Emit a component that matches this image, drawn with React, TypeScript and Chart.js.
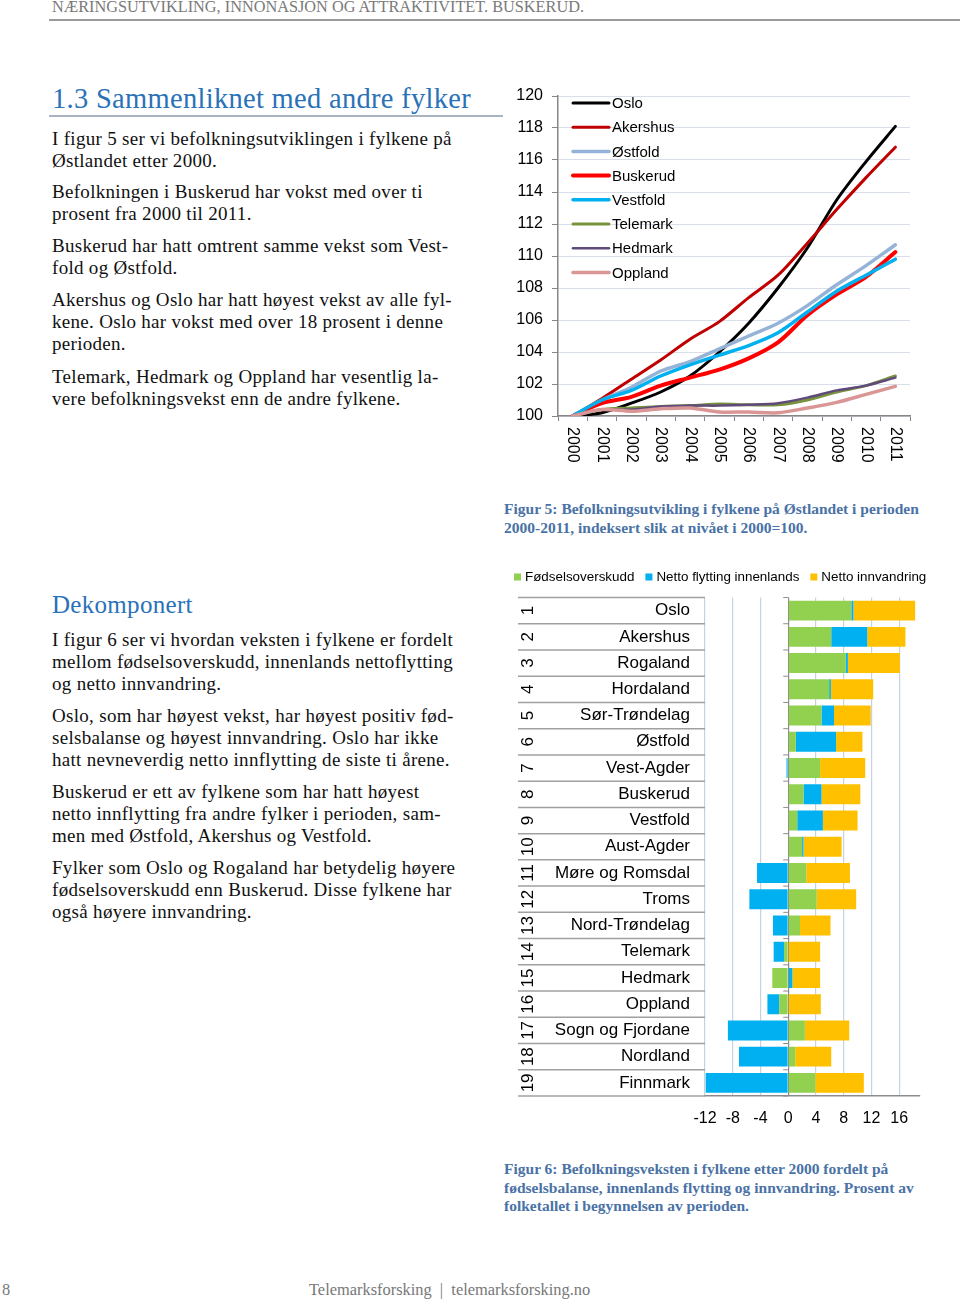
import React, { useEffect, useRef } from 'react';
import { Chart, registerables } from 'chart.js';

Chart.register(...registerables);

const SANS = '"Liberation Sans", Arial, Helvetica, sans-serif';
const SERIF = '"Liberation Serif", "Times New Roman", serif';

// ---------- Figure 5 data ----------
const years = ['2000', '2001', '2002', '2003', '2004', '2005', '2006', '2007', '2008', '2009', '2010', '2011'];
const oslo = [100, 100.2, 100.8, 101.5, 102.5, 104.0, 105.8, 108.0, 110.5, 113.5, 115.9, 118.1];
const akershus = [100, 101.1, 102.3, 103.5, 104.8, 105.9, 107.4, 108.8, 110.8, 112.9, 114.9, 116.8];
const ostfold = [100, 101.0, 101.8, 102.8, 103.4, 104.2, 105.0, 105.8, 106.9, 108.2, 109.4, 110.7];
const buskerud = [100, 100.8, 101.2, 101.9, 102.4, 102.9, 103.6, 104.6, 106.3, 107.6, 108.7, 110.25];
const vestfold = [100, 101.0, 101.6, 102.5, 103.2, 103.8, 104.4, 105.2, 106.5, 107.8, 108.8, 109.8];
const telemark = [100, 100.4, 100.5, 100.6, 100.65, 100.75, 100.7, 100.7, 101.0, 101.5, 101.9, 102.5];
const hedmark = [100, 100.4, 100.4, 100.6, 100.65, 100.65, 100.7, 100.8, 101.15, 101.6, 101.9, 102.4];
const oppland = [100, 100.4, 100.3, 100.45, 100.5, 100.25, 100.25, 100.2, 100.5, 100.85, 101.35, 101.85];
const lineNames = ['Oslo', 'Akershus', 'Østfold', 'Buskerud', 'Vestfold', 'Telemark', 'Hedmark', 'Oppland'];
const lineValues = [oslo, akershus, ostfold, buskerud, vestfold, telemark, hedmark, oppland];
const lineColors = ['#000000', '#C00000', '#95B3D7', '#FF0000', '#00B0F0', '#77933C', '#604A7B', '#D99694'];
const lineWidths = [3, 3, 3.5, 4, 3.5, 3, 2.5, 3.5];
const indexMin = 100;
const indexMax = 120;
const indexStep = 2;

// ---------- Figure 6 data ----------
const ranks = ['1', '2', '3', '4', '5', '6', '7', '8', '9', '10', '11', '12', '13', '14', '15', '16', '17', '18', '19'];
const counties = ['Oslo', 'Akershus', 'Rogaland', 'Hordaland', 'Sør-Trøndelag', 'Østfold', 'Vest-Agder', 'Buskerud', 'Vestfold', 'Aust-Agder', 'Møre og Romsdal', 'Troms', 'Nord-Trøndelag', 'Telemark', 'Hedmark', 'Oppland', 'Sogn og Fjordane', 'Nordland', 'Finnmark'];
const fodselsoverskudd = [9.1, 6.2, 8.3, 5.9, 4.8, 1.1, 4.6, 2.2, 1.3, 2.0, 2.6, 4.1, 1.7, -0.6, -2.3, -1.3, 2.4, 1.0, 3.9];
const nettoFlytting = [0.3, 5.2, 0.3, 0.25, 1.8, 5.8, -0.25, 2.6, 3.7, 0.2, -4.5, -5.6, -2.2, -1.5, 0.6, -1.7, -8.7, -7.1, -11.9];
const nettoInnvandring = [8.9, 5.5, 7.5, 6.1, 5.3, 3.8, 6.5, 5.6, 5.0, 5.5, 6.3, 5.7, 4.4, 4.6, 4.0, 4.7, 6.4, 5.2, 7.0];
const barNames = ['Fødselsoverskudd', 'Netto flytting innenlands', 'Netto innvandring'];
const barColors = ['#92D050', '#00B0F0', '#FFC000'];
const pctMin = -12;
const pctMax = 19;
const pctStep = 4;

// ---------- Text ----------
const headerText = 'NÆRINGSUTVIKLING, INNONASJON OG ATTRAKTIVITET. BUSKERUD.';
const heading1 = '1.3 Sammenliknet med andre fylker';
const introParas = [
  { top: 128, lines: ['I figur 5 ser vi befolkningsutviklingen i fylkene på', 'Østlandet etter 2000.'] },
  { top: 181, lines: ['Befolkningen i Buskerud har vokst med over ti', 'prosent fra 2000 til 2011.'] },
  { top: 235, lines: ['Buskerud har hatt omtrent samme vekst som Vest-', 'fold og Østfold.'] },
  { top: 289, lines: ['Akershus og Oslo har hatt høyest vekst av alle fyl-', 'kene. Oslo har vokst med over 18 prosent i denne', 'perioden.'] },
  { top: 366, lines: ['Telemark, Hedmark og Oppland har vesentlig la-', 'vere befolkningsvekst enn de andre fylkene.'] },
];
const heading2 = 'Dekomponert';
const dekParas = [
  { top: 629, lines: ['I figur 6 ser vi hvordan veksten i fylkene er fordelt', 'mellom fødselsoverskudd, innenlands nettoflytting', 'og netto innvandring.'] },
  { top: 705, lines: ['Oslo, som har høyest vekst, har høyest positiv fød-', 'selsbalanse og høyest innvandring. Oslo har ikke', 'hatt nevneverdig netto innflytting de siste ti årene.'] },
  { top: 781, lines: ['Buskerud er ett av fylkene som har hatt høyest', 'netto innflytting fra andre fylker i perioden, sam-', 'men med Østfold, Akershus og Vestfold.'] },
  { top: 857, lines: ['Fylker som Oslo og Rogaland har betydelig høyere', 'fødselsoverskudd enn Buskerud. Disse fylkene har', 'også høyere innvandring.'] },
];
const fig5Caption = ['Figur 5: Befolkningsutvikling i fylkene på Østlandet i perioden', '2000-2011, indeksert slik at nivået i 2000=100.'];
const fig6Caption = ['Figur 6: Befolkningsveksten i fylkene etter 2000 fordelt på', 'fødselsbalanse, innenlands flytting og innvandring. Prosent av', 'folketallet i begynnelsen av perioden.'];
const footerText = 'Telemarksforsking  |  telemarksforsking.no';
const pageNumber = '8';

function LineChart() {
  const ref = useRef<HTMLCanvasElement>(null);
  useEffect(() => {
    const inlineLegend = {
      id: 'inlineLegend',
      afterDraw(chart: any) {
        const { ctx, chartArea } = chart;
        ctx.save();
        chart.data.datasets.forEach((ds: any, i: number) => {
          const y = chartArea.top + 7 + i * 24.2;
          const x0 = chartArea.left + 15;
          ctx.strokeStyle = ds.borderColor;
          ctx.lineWidth = ds.borderWidth;
          ctx.lineCap = 'round';
          ctx.beginPath();
          ctx.moveTo(x0, y);
          ctx.lineTo(x0 + 36, y);
          ctx.stroke();
          ctx.fillStyle = '#000';
          ctx.font = `15px ${SANS}`;
          ctx.textAlign = 'left';
          ctx.textBaseline = 'middle';
          ctx.fillText(ds.label, x0 + 39, y + 1);
        });
        ctx.restore();
      },
    };
    const rotatedXLabels = {
      id: 'rotatedXLabels',
      afterDraw(chart: any) {
        const { ctx, chartArea } = chart;
        const xs = chart.scales.x;
        ctx.save();
        ctx.fillStyle = '#000';
        ctx.font = `16px ${SANS}`;
        ctx.textAlign = 'left';
        ctx.textBaseline = 'middle';
        chart.data.labels.forEach((lab: string, i: number) => {
          const x = xs.getPixelForValue(i);
          ctx.save();
          ctx.translate(x, chartArea.bottom + 11);
          ctx.rotate(Math.PI / 2);
          ctx.fillText(lab, 0, 0);
          ctx.restore();
        });
        ctx.restore();
      },
    };
    const chart = new Chart(ref.current as HTMLCanvasElement, {
      type: 'line',
      data: {
        labels: years,
        datasets: lineNames.map((name, i) => ({
          label: name,
          data: lineValues[i],
          borderColor: lineColors[i],
          backgroundColor: lineColors[i],
          borderWidth: lineWidths[i],
          pointRadius: 0,
          fill: false,
          tension: 0.3,
          borderCapStyle: 'round',
          borderJoinStyle: 'round',
          order: -i,
        })),
      },
      options: {
        responsive: false,
        animation: false,
        layout: { padding: { top: 11, right: 10, bottom: 0, left: 0 } },
        plugins: { legend: { display: false }, tooltip: { enabled: false } },
        scales: {
          x: {
            type: 'category',
            offset: true,
            grid: { display: true, drawOnChartArea: false, drawTicks: true, tickLength: 5, color: '#868686', offset: true },
            border: { color: '#868686', width: 1.5 },
            ticks: { display: false },
            afterFit: (s: any) => { s.height = 59; },
          },
          y: {
            min: indexMin,
            max: indexMax,
            ticks: { stepSize: indexStep, font: { size: 16, family: SANS }, color: '#000', padding: 9 },
            grid: { color: '#D9DFEA', tickLength: 6, tickColor: '#868686', lineWidth: 1 },
            border: { color: '#868686', width: 1.5 },
            afterFit: (s: any) => { s.width = 58; s.paddingTop = 0; s.paddingBottom = 0; },
          },
        },
      } as any,
      plugins: [inlineLegend, rotatedXLabels],
    });
    return () => chart.destroy();
  }, []);
  return <canvas ref={ref} width={420} height={390} style={{ position: 'absolute', left: 500, top: 85 }} />;
}

function BarChart() {
  const ref = useRef<HTMLCanvasElement>(null);
  useEffect(() => {
    const tablePlugin = {
      id: 'categoryTable',
      afterDraw(chart: any) {
        const { ctx, chartArea } = chart;
        const ys = chart.scales.y;
        const xs = chart.scales.x;
        const n = chart.data.labels.length;
        const rowH = (chartArea.bottom - chartArea.top) / n;
        const tableLeft = 518;
        ctx.save();
        ctx.strokeStyle = '#A0A0A0';
        ctx.lineWidth = 1.5;
        for (let i = 0; i <= n; i++) {
          const y = chartArea.top + i * rowH;
          ctx.beginPath();
          ctx.moveTo(tableLeft - chart.canvas.offsetLeft, y);
          ctx.lineTo(chartArea.left, y);
          ctx.stroke();
        }
        const x0 = xs.getPixelForValue(0);
        ctx.strokeStyle = '#8C8C8C';
        ctx.lineWidth = 1;
        for (let i = 0; i <= n; i++) {
          const y = chartArea.top + i * rowH;
          ctx.beginPath();
          ctx.moveTo(x0 - 5, y);
          ctx.lineTo(x0, y);
          ctx.stroke();
        }
        ctx.fillStyle = '#000';
        ctx.font = `17px ${SANS}`;
        ctx.textAlign = 'center';
        ctx.textBaseline = 'middle';
        ranks.forEach((r, i) => {
          const y = ys.getPixelForValue(i);
          ctx.save();
          ctx.translate(528 - chart.canvas.offsetLeft, y);
          ctx.rotate(-Math.PI / 2);
          ctx.fillText(r, 0, 0);
          ctx.restore();
        });
        ctx.restore();
      },
    };
    const topLegend = {
      id: 'topLegend',
      afterDraw(chart: any) {
        const { ctx } = chart;
        ctx.save();
        ctx.font = `13.4px ${SANS}`;
        ctx.textBaseline = 'middle';
        ctx.textAlign = 'left';
        let x = 514 - chart.canvas.offsetLeft;
        const y = 577 - chart.canvas.offsetTop;
        chart.data.datasets.forEach((ds: any) => {
          ctx.fillStyle = ds.backgroundColor;
          ctx.fillRect(x, y - 3.5, 7, 7);
          x += 11;
          ctx.fillStyle = '#000';
          ctx.fillText(ds.label, x, y + 0.5);
          x += ctx.measureText(ds.label).width + 11;
        });
        ctx.restore();
      },
    };
    const series = [fodselsoverskudd, nettoFlytting, nettoInnvandring];
    const chart = new Chart(ref.current as HTMLCanvasElement, {
      type: 'bar',
      data: {
        labels: counties,
        datasets: barNames.map((name, i) => ({
          label: name,
          data: series[i],
          backgroundColor: barColors[i],
          borderWidth: 0,
          barPercentage: 0.76,
          categoryPercentage: 1,
        })),
      },
      options: {
        indexAxis: 'y',
        responsive: false,
        animation: false,
        layout: { padding: { top: 37.5, right: 10, bottom: 0, left: 0 } },
        plugins: { legend: { display: false }, tooltip: { enabled: false } },
        scales: {
          x: {
            stacked: true,
            min: pctMin,
            max: pctMax,
            ticks: { stepSize: pctStep, includeBounds: false, font: { size: 16, family: SANS }, color: '#000', padding: 13 },
            grid: {
              drawTicks: false,
              color: (c: any) => (c.tick && c.tick.value === 0 ? '#8C8C8C' : '#C5D2E2'),
              lineWidth: 1.2,
            },
            border: { display: true, color: '#8C8C8C', width: 1.5 },
            afterFit: (s: any) => { s.height = 44; },
          },
          y: {
            stacked: true,
            ticks: { autoSkip: false, font: { size: 17, family: SANS }, color: '#000', padding: 15 },
            grid: { display: false, drawTicks: false },
            border: { display: false },
            afterFit: (s: any) => { s.width = 200; },
          },
        },
      } as any,
      plugins: [tablePlugin, topLegend],
    });
    return () => chart.destroy();
  }, []);
  return <canvas ref={ref} width={425} height={580} style={{ position: 'absolute', left: 505, top: 560 }} />;
}

function Lines({ lines, left, top, style }: { lines: string[]; left: number; top: number; style: any }) {
  return (
    <div style={{ position: 'absolute', left, top, whiteSpace: 'nowrap', ...style }}>
      {lines.map((l, i) => (
        <div key={i}>{l}</div>
      ))}
    </div>
  );
}

export default function App() {
  const bodyStyle = { fontFamily: SERIF, fontSize: 19, lineHeight: '21.8px', color: '#111', letterSpacing: '0.3px' };
  const capStyle = { fontFamily: SERIF, fontSize: 15.5, fontWeight: 'bold', lineHeight: '19px', color: '#4A72A6' };
  return (
    <div style={{ position: 'absolute', left: 0, top: 0, width: 960, height: 1300, background: '#fff', overflow: 'hidden' }}>
      <div style={{ position: 'absolute', left: 52, top: -1, fontFamily: SERIF, fontSize: 16.3, lineHeight: '16px', color: '#7a7a7a', whiteSpace: 'nowrap' }}>{headerText}</div>
      <div style={{ position: 'absolute', left: 49, top: 19, width: 911, height: 2, background: '#9a9a9a' }} />

      <div style={{ position: 'absolute', left: 52, top: 82, fontFamily: SERIF, fontSize: 28.5, lineHeight: '34px', color: '#2A72B8', whiteSpace: 'nowrap', letterSpacing: '0.3px' }}>{heading1}</div>
      <div style={{ position: 'absolute', left: 49, top: 115, width: 454, height: 2, background: '#A9B4C0' }} />
      {introParas.map((p, i) => (
        <Lines key={i} lines={p.lines} left={52} top={p.top} style={bodyStyle} />
      ))}

      <div style={{ position: 'absolute', left: 52, top: 590, fontFamily: SERIF, fontSize: 25, lineHeight: '30px', color: '#2A72B8', whiteSpace: 'nowrap', letterSpacing: '0.3px' }}>{heading2}</div>
      {dekParas.map((p, i) => (
        <Lines key={i} lines={p.lines} left={52} top={p.top} style={bodyStyle} />
      ))}

      <LineChart />
      <Lines lines={fig5Caption} left={504} top={498.5} style={capStyle} />

      <BarChart />
      <Lines lines={fig6Caption} left={504} top={1160} style={{ ...capStyle, lineHeight: '18.5px' }} />

      <div style={{ position: 'absolute', left: 2, top: 1281, fontFamily: SERIF, fontSize: 16.4, lineHeight: '18px', color: '#777' }}>{pageNumber}</div>
      <div style={{ position: 'absolute', left: 309, top: 1281, fontFamily: SERIF, fontSize: 16.4, lineHeight: '18px', color: '#777', whiteSpace: 'pre' }}>{footerText}</div>
    </div>
  );
}
